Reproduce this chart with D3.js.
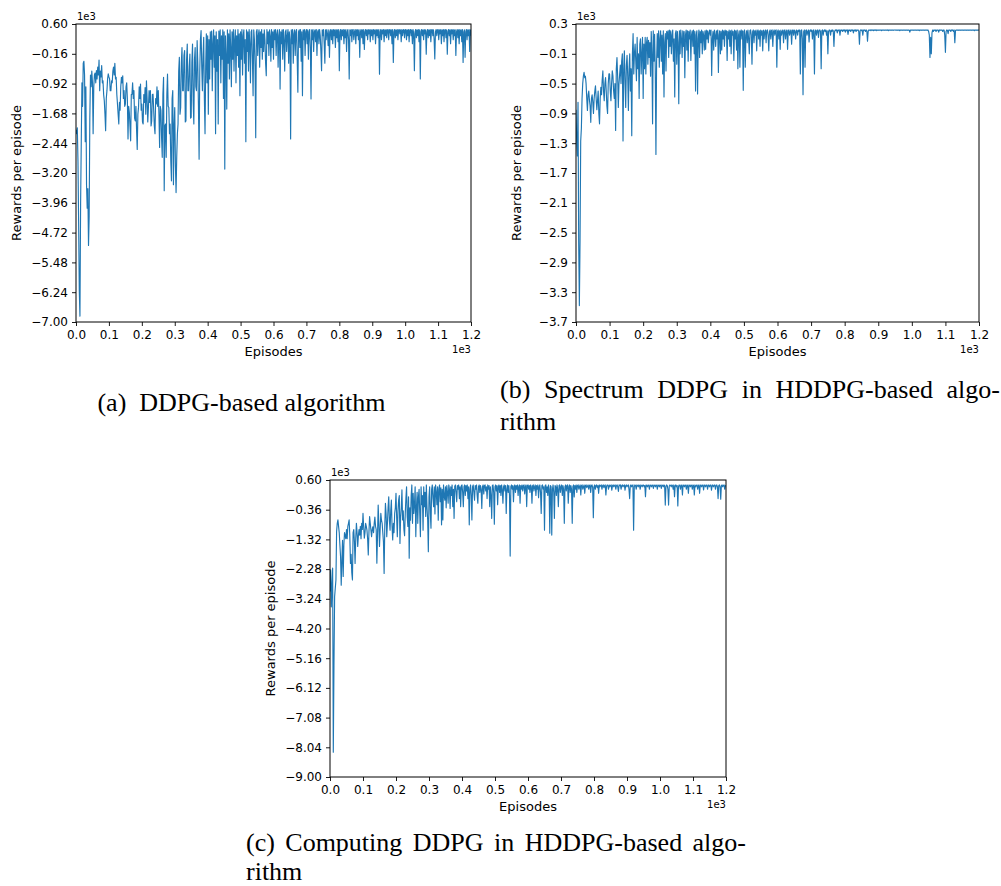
<!DOCTYPE html>
<html>
<head>
<meta charset="utf-8">
<script src="https://cdn.jsdelivr.net/npm/d3@7"></script>
<style>
  html, body { margin: 0; padding: 0; background: #fff; }
  svg { display: block; }
</style>
</head>
<body>
<svg id="chart" width="1001" height="886"></svg>
<script>
// ---------------- DATA ----------------
// One sample every 2 episodes, 0..1200 (each row below = 50 episodes)
const episodes = d3.range(0, 1201, 2);

const xTicks = [0, 100, 200, 300, 400, 500, 600, 700, 800, 900, 1000, 1100, 1200];

// (a) DDPG-based algorithm
const yTicksA = [600, -160, -920, -1680, -2440, -3200, -3960, -4720, -5480, -6240, -7000];
const rewardsA = [
  -2100,-2200,-2050,-2900,-4500,-6200,-6850,-4000,-2400,-900,-1500,-400,-350,-700,-2400,-1000,-3500,-4100,-3600,-5050,-4300,-1800,-700,-1000,-600,
  -890,-2200,-1000,-700,-650,-900,-590,-800,-500,-700,-320,-1100,-600,-750,-460,-900,-850,-1200,-1360,-1700,-2120,-1300,-1100,-800,-670,
  -750,-800,-1100,-1100,-850,-900,-600,-500,-700,-400,-800,-760,-1200,-1440,-1700,-1950,-1400,-1600,-1000,-760,-900,-720,-1300,-1100,-1500,
  -1440,-1000,-900,-1300,-2330,-1500,-1650,-2000,-2380,-1200,-1190,-900,-1300,-1100,-1800,-1870,-1500,-2100,-2600,-1700,-1520,-1000,-1300,-930,-1600,
  -1440,-1900,-1950,-1200,-1400,-1020,-1700,-850,-1300,-1900,-1530,-1100,-1400,-1100,-2000,-1870,-1200,-1190,-1600,-2000,-2200,-1300,-1440,-1000,-1500,
  -1100,-1700,-2550,-1500,-1600,-2300,-2800,-1200,-760,-3650,-2000,-1950,-2800,-1200,-680,-1500,-1530,-2200,-1950,-2900,-3400,-1300,-1100,-3500,-2000,
  -1530,-3000,-3700,-2800,-2200,-1950,-600,-250,-1700,-1530,-400,0,-1100,-1100,-200,-80,-1900,-1870,-300,90,-1100,-1100,-500,-170,-1800,
  -1780,-400,90,-1400,-1950,-300,0,-1000,-1100,175,-400,-1500,-2850,-600,200,430,-500,-1100,-200,260,-1300,-2200,-500,350,-900,
  300,-1700,200,-800,400,-300,420,-1100,100,450,-500,300,-2200,400,-600,200,-1950,420,-200,450,-900,300,-300,450,-1300,
  400,-3100,300,-200,-1570,450,-400,350,-800,450,0,-1000,400,-300,460,-600,200,450,-900,300,-200,460,-500,350,-1230,
  400,-300,460,-700,300,450,-400,200,-2400,450,-100,400,-600,460,100,-900,400,450,-300,-1230,450,200,-500,-2300,400,
  460,-200,300,450,-500,400,0,460,-300,350,-100,450,200,-400,-720,460,100,400,-200,450,300,-350,460,0,400,
  -300,450,200,460,-200,350,450,-500,300,460,-1060,400,100,450,-300,460,200,-600,400,450,-100,300,460,-400,400,
  200,-2330,450,100,460,-400,350,450,-200,400,460,-300,-1140,400,450,0,460,-350,400,-1230,450,200,460,-200,400,
  460,100,450,-300,400,460,0,-1310,450,200,460,-100,400,450,150,460,-200,400,450,100,460,300,-100,-590,450,
  300,460,100,-400,450,200,460,350,50,450,-250,400,460,200,450,100,460,300,450,0,460,250,450,150,460,
  -590,400,460,200,450,300,460,100,450,250,460,-100,400,460,200,-800,450,300,460,150,450,460,200,400,460,
  100,450,300,460,200,450,-250,400,460,250,450,100,460,-50,400,460,300,450,200,460,350,450,150,460,300,
  450,200,460,350,450,100,460,300,450,250,460,-680,400,460,200,450,350,460,150,450,300,460,250,450,460,
  200,450,460,300,450,100,460,-380,400,460,250,450,300,460,200,450,460,350,450,150,460,300,450,460,250,
  450,460,200,450,300,460,150,450,460,300,450,100,460,350,-590,400,460,250,450,300,460,150,450,-800,400,
  460,300,450,200,460,350,450,-170,400,460,250,450,300,460,150,450,460,300,450,200,-290,400,460,300,450,
  460,200,450,350,460,100,450,300,460,150,450,460,250,450,-170,400,460,300,450,100,460,350,450,200,460,
  300,450,-200,400,460,250,450,100,460,300,450,150,460,-380,400,450,-250,400,460,200,450,300,460,-100,450,
  300
];

// (b) Spectrum DDPG in HDDPG-based algorithm
const yTicksB = [300, -100, -500, -900, -1300, -1700, -2100, -2500, -2900, -3300, -3700];
const rewardsB = [
  -850,-1270,-1470,-750,-2630,-3480,-2630,-1270,-1100,-700,-500,-400,-350,-420,-400,-500,-700,-860,-650,-600,-720,-800,-1020,-700,-650,
  -750,-900,-700,-600,-530,-700,-850,-730,-600,-900,-1040,-700,-550,-650,-450,-330,-600,-730,-500,-420,-600,-800,-900,-500,-370,
  -370,-600,-730,-500,-330,-400,-600,-700,-500,-1130,-300,-150,-400,-820,-500,-370,-250,-500,-200,-100,-1270,-300,-60,-500,-820,
  -250,-120,-400,-860,-300,-100,-600,-300,-1200,-100,170,-370,-100,30,-200,-460,120,-300,-100,-700,30,100,-370,-100,120,
  -700,30,-300,120,-370,50,120,-240,80,-150,50,-400,200,-100,-1040,210,-200,160,-300,-1450,-200,170,-150,210,-280,
  100,210,-200,150,-370,210,-680,50,170,-330,200,100,210,-150,220,0,210,-100,150,220,-200,100,-680,170,210,
  -240,200,50,-770,210,-100,220,100,-150,210,0,200,-420,150,220,-50,210,-200,200,100,220,-190,150,210,0,
  220,-100,200,-600,150,210,-640,100,220,-150,200,50,220,-100,200,150,-50,210,-40,220,100,210,50,180,220,
  150,220,-390,100,200,-50,220,150,0,210,100,220,-350,150,210,-100,200,-50,220,100,210,0,220,150,210,
  -190,200,100,220,0,210,-100,220,150,200,-190,220,100,210,-50,220,-300,150,210,-280,200,220,100,210,-590,
  200,220,-280,150,210,50,220,100,-100,210,220,150,-240,200,220,50,210,150,220,-60,200,220,100,210,0,
  220,150,210,-60,220,100,200,220,50,210,220,150,-60,200,220,100,210,220,0,200,220,150,210,220,-280,
  200,220,100,210,-40,220,150,200,220,50,210,220,100,200,220,-40,210,220,150,200,220,30,210,220,150,
  220,200,100,220,210,150,220,200,220,-370,210,220,100,-650,200,220,-280,210,220,150,200,220,60,210,220,
  200,220,100,210,220,-370,200,220,150,210,220,120,210,220,200,-300,210,220,150,210,220,200,220,150,210,
  -100,200,220,210,150,220,200,220,210,0,200,220,210,220,180,220,210,220,150,220,210,220,200,220,210,
  220,190,220,210,220,160,220,210,220,200,220,215,220,180,220,210,220,200,220,215,220,200,30,210,220,
  210,220,150,220,215,220,200,220,210,70,200,220,215,220,210,220,215,220,210,220,215,220,210,220,215,
  220,215,220,218,220,210,220,218,220,215,220,218,220,215,220,210,220,218,220,215,220,218,220,215,220,
  220,218,220,215,220,218,220,210,220,218,220,215,220,218,220,215,220,218,220,215,220,218,190,220,218,
  220,218,220,215,220,218,220,215,220,218,220,210,220,218,220,215,220,218,220,215,220,218,220,215,220,
  200,150,-150,120,-100,180,220,200,220,215,220,200,220,218,220,190,220,215,220,218,220,200,220,218,150,
  -80,200,220,215,170,220,218,220,200,220,215,220,200,220,50,210,220,218,220,215,220,218,220,215,220,
  218,220,215,220,218,220,215,220,218,220,215,220,218,220,215,220,218,220,210,220,218,220,215,220,218,
  220
];

// (c) Computing DDPG in HDDPG-based algorithm
const yTicksC = [600, -360, -1320, -2280, -3240, -4200, -5160, -6120, -7080, -8040, -9000];
const rewardsC = [
  -3000,-2300,-3500,-2800,-2250,-8200,-5400,-3170,-2900,-2630,-1070,-800,-690,-900,-1100,-1500,-1880,-2800,-2000,-1350,-2520,-1500,-1100,-1200,-1300,
  -1000,-1300,-900,-800,-690,-1200,-2100,-1800,-2400,-2630,-1100,-1000,-1400,-2100,-1300,-800,-1100,-1550,-1200,-1000,-1180,-900,-1300,-800,-1000,
  -480,-900,-1280,-1100,-800,-900,-1020,-1300,-1820,-1100,-580,-800,-1020,-1230,-1000,-910,-1100,-800,-600,-900,-1000,-2090,-1200,-210,-800,
  -1550,-1000,-480,-700,-800,-1100,-1400,-2420,-900,-150,-500,-1230,-800,-300,60,-700,-1020,-400,-50,-900,-1340,-800,-1100,-480,-300,
  170,-600,-1230,-400,-50,100,-1450,-600,-300,280,-690,-400,-1000,-1200,-500,0,380,-580,-900,60,-1930,-300,-700,100,440,
  -800,170,-480,-200,380,-1230,-300,200,-800,60,300,-500,-1230,380,-200,100,-1020,380,-260,200,-580,440,-300,-690,-1720,
  60,380,-480,-960,300,440,0,-260,380,-500,440,200,-200,380,-700,300,440,-100,350,-850,300,-690,440,100,-50,
  380,-300,420,200,-150,440,300,-320,380,100,440,-260,300,-640,400,440,200,-100,420,300,440,0,380,-260,420,
  440,200,-260,380,440,100,420,250,440,0,380,-850,300,440,100,-690,380,440,200,-50,420,300,440,100,-150,
  380,440,200,420,300,-320,380,440,150,420,440,250,380,0,440,300,420,-260,380,100,-640,420,440,200,-830,
  380,440,250,420,-200,380,440,200,420,100,440,300,-150,380,440,250,420,-480,300,440,200,420,100,-1860,380,
  440,300,420,-100,380,440,200,420,300,440,100,380,440,-150,420,300,440,250,420,440,150,380,440,-260,420,
  440,300,420,200,440,380,-150,420,440,250,380,440,100,420,300,440,30,380,440,200,-480,420,440,300,380,
  -1020,420,440,200,380,100,440,300,-1120,420,380,-1180,300,440,200,-640,420,380,100,440,300,-260,420,440,200,
  380,440,100,420,300,-800,380,440,250,420,440,-150,380,440,200,420,300,-800,380,440,50,420,300,440,200,
  420,440,300,380,440,120,420,440,300,380,440,170,420,440,350,400,440,300,420,440,200,420,440,350,-620,
  380,440,300,420,440,350,420,170,440,380,420,440,300,420,440,350,420,440,120,400,440,420,300,440,380,
  420,440,270,420,440,380,420,440,300,420,440,380,230,440,420,440,300,420,440,380,420,440,270,420,440,
  380,420,440,300,0,420,440,380,420,440,-1020,380,440,420,300,440,420,380,440,420,300,440,420,380,440,
  440,380,420,60,440,420,380,440,420,300,440,420,380,440,420,330,440,420,380,440,420,300,440,420,380,
  440,420,330,440,420,380,440,420,-210,380,440,420,300,-210,400,440,420,380,440,420,300,440,60,420,440,
  380,420,-240,380,440,420,300,440,420,120,440,420,380,440,420,300,440,420,170,440,420,380,440,420,300,
  440,420,120,440,380,420,440,300,420,440,170,420,440,380,420,440,280,420,440,380,420,440,300,420,440,
  380,420,440,270,420,440,380,420,440,300,420,440,380,0,420,440,380,-20,420,440,380,420,440,300,420,
  400
];

// ---------------- LAYOUT ----------------
const svg = d3.select("#chart");
svg.append("rect").attr("width", 1001).attr("height", 886).attr("fill", "#fff");

const panels = [
  { values: rewardsA, yTicks: yTicksA, dec: 2, left: 76, right: 471, top: 24, bottom: 322, id: "a" },
  { values: rewardsB, yTicks: yTicksB, dec: 1, left: 576, right: 979, top: 24, bottom: 322, id: "b" },
  { values: rewardsC, yTicks: yTicksC, dec: 2, left: 330, right: 726, top: 480, bottom: 777, id: "c" }
];

const tickFont = "DejaVu Sans";
const fmtMinus = s => s.replace("-", "\u2212");

panels.forEach(p => {
  const g = svg.append("g");
  const x = d3.scaleLinear().domain([0, 1200]).range([p.left, p.right]);
  const y = d3.scaleLinear().domain([p.yTicks[p.yTicks.length - 1], p.yTicks[0]]).range([p.bottom, p.top]);

  g.append("clipPath").attr("id", "clip-" + p.id)
    .append("rect").attr("x", p.left).attr("y", p.top)
    .attr("width", p.right - p.left).attr("height", p.bottom - p.top);

  const line = d3.line().x((d, i) => x(episodes[i])).y(d => y(d));
  g.append("path").datum(p.values)
    .attr("clip-path", "url(#clip-" + p.id + ")")
    .attr("d", line)
    .attr("fill", "none")
    .attr("stroke", "#1f77b4")
    .attr("stroke-width", 1.15)
    .attr("stroke-linejoin", "round");

  const xAxis = d3.axisBottom(x).tickValues(xTicks)
    .tickFormat(d => (d / 1000).toFixed(1)).tickSize(4).tickPadding(4);
  const yAxis = d3.axisLeft(y).tickValues(p.yTicks)
    .tickFormat(d => fmtMinus((d / 1000).toFixed(p.dec))).tickSize(4).tickPadding(4);

  const gx = g.append("g").attr("transform", `translate(0,${p.bottom})`).call(xAxis);
  const gy = g.append("g").attr("transform", `translate(${p.left},0)`).call(yAxis);
  [gx, gy].forEach(ax => {
    ax.select(".domain").remove();
    ax.selectAll("line").attr("stroke", "#000").attr("stroke-width", 0.9);
    ax.selectAll("text").attr("font-family", tickFont).attr("font-size", 12).attr("fill", "#000");
  });

  g.append("rect").attr("x", p.left).attr("y", p.top)
    .attr("width", p.right - p.left).attr("height", p.bottom - p.top)
    .attr("fill", "none").attr("stroke", "#000").attr("stroke-width", 1);

  g.append("text").attr("x", p.left + 1).attr("y", p.top - 4)
    .attr("font-family", tickFont).attr("font-size", 10).text("1e3");
  g.append("text").attr("x", p.right).attr("y", p.bottom + 31).attr("text-anchor", "end")
    .attr("font-family", tickFont).attr("font-size", 10).text("1e3");

  g.append("text").attr("x", (p.left + p.right) / 2).attr("y", p.bottom + 34)
    .attr("text-anchor", "middle").attr("font-family", tickFont).attr("font-size", 13)
    .text("Episodes");
  g.append("text")
    .attr("transform", `translate(${p.left - 55},${(p.top + p.bottom) / 2}) rotate(-90)`)
    .attr("text-anchor", "middle").attr("font-family", tickFont).attr("font-size", 13)
    .text("Rewards per episode");
});

// ---------------- CAPTIONS ----------------
const capFont = "Liberation Serif";
const capSize = 26;

function justified(text, x0, width, yBase) {
  const words = text.split(" ");
  const g = svg.append("g");
  const nodes = words.map(w => g.append("text").attr("y", yBase)
    .attr("font-family", capFont).attr("font-size", capSize).text(w));
  const widths = nodes.map(n => n.node().getComputedTextLength());
  const gap = (width - d3.sum(widths)) / (words.length - 1);
  let cx = x0;
  nodes.forEach((n, i) => { n.attr("x", cx); cx += widths[i] + gap; });
}

svg.append("text").attr("x", 241.5).attr("y", 411).attr("text-anchor", "middle")
  .attr("font-family", capFont).attr("font-size", capSize).attr("xml:space", "preserve")
  .text("(a)  DDPG-based algorithm");

justified("(b) Spectrum DDPG in HDDPG-based algo-", 500, 500, 398);
svg.append("text").attr("x", 500).attr("y", 430)
  .attr("font-family", capFont).attr("font-size", capSize).text("rithm");

justified("(c) Computing DDPG in HDDPG-based algo-", 246, 500, 851);
svg.append("text").attr("x", 246).attr("y", 880)
  .attr("font-family", capFont).attr("font-size", capSize).text("rithm");
</script>
</body>
</html>
